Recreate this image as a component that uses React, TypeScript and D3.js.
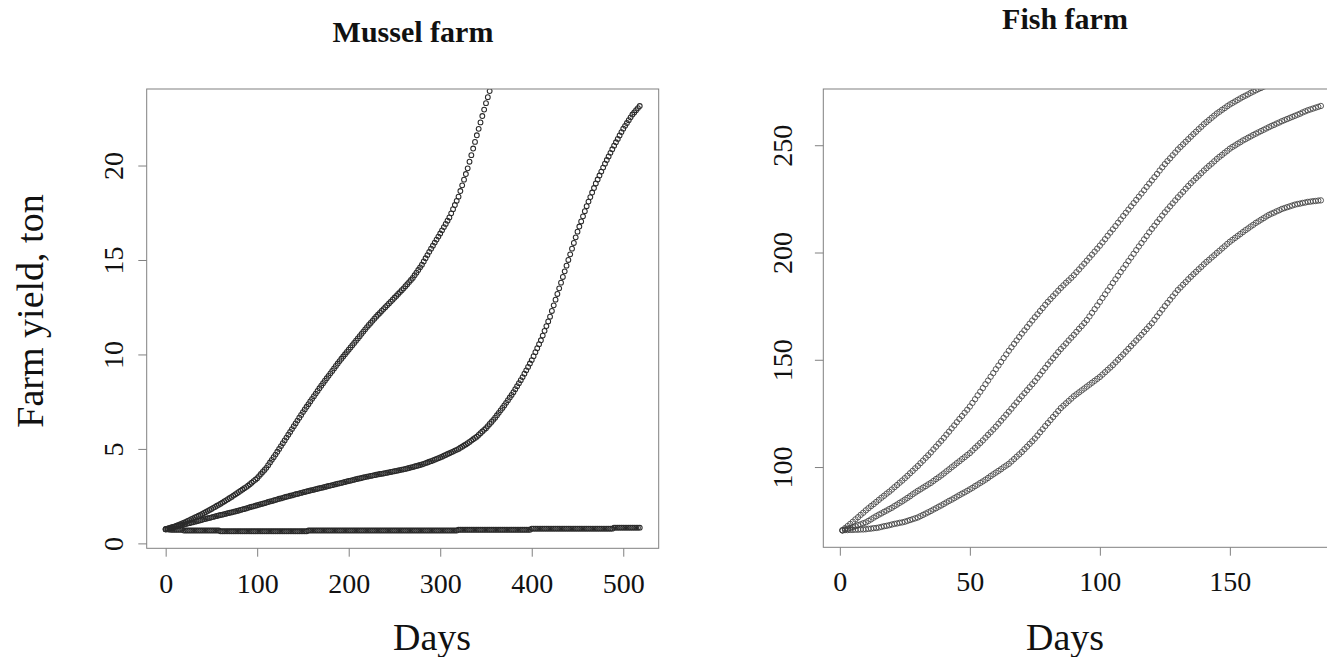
import React, { useEffect, useRef } from "react";
import * as d3 from "d3";

const W = 1327;
const H = 657;
const SERIF = "'Liberation Serif', 'Times New Roman', serif";

// Mussel farm (left panel): one reading every 2 days, days 0..518
const musselDays = d3.range(0, 519, 2);

// fast-growing run, leaves the plot top around day 356
const musselFast = [
  0.75, 0.78, 0.81, 0.84, 0.87, 0.9,
  0.94, 0.98, 1.02, 1.06, 1.1,
  1.14, 1.19, 1.23, 1.28, 1.32,
  1.37, 1.42, 1.46, 1.51, 1.56,
  1.61, 1.66, 1.72, 1.77, 1.82,
  1.88, 1.93, 1.99, 2.04, 2.1,
  2.16, 2.22, 2.28, 2.34, 2.4,
  2.46, 2.53, 2.59, 2.66, 2.72,
  2.79, 2.85, 2.92, 2.98, 3.05,
  3.13, 3.21, 3.29, 3.37, 3.45,
  3.56, 3.67, 3.78, 3.89, 4.0,
  4.14, 4.28, 4.42, 4.56, 4.7,
  4.85, 5.0, 5.15, 5.3, 5.45,
  5.6, 5.75, 5.9, 6.05, 6.2,
  6.35, 6.5, 6.65, 6.8, 6.95,
  7.09, 7.23, 7.37, 7.51, 7.65,
  7.79, 7.93, 8.07, 8.21, 8.35,
  8.48, 8.61, 8.74, 8.87, 9.0,
  9.13, 9.26, 9.39, 9.52, 9.65,
  9.77, 9.89, 10.01, 10.13, 10.25,
  10.37, 10.49, 10.61, 10.73, 10.85,
  10.97, 11.09, 11.21, 11.33, 11.45,
  11.56, 11.67, 11.78, 11.89, 12.0,
  12.1, 12.2, 12.3, 12.4, 12.5,
  12.6, 12.7, 12.8, 12.9, 13.0,
  13.1, 13.2, 13.3, 13.4, 13.5,
  13.61, 13.72, 13.83, 13.94, 14.05,
  14.19, 14.33, 14.47, 14.61, 14.75,
  14.92, 15.09, 15.26, 15.43, 15.6,
  15.76, 15.92, 16.08, 16.24, 16.4,
  16.57, 16.74, 16.91, 17.08, 17.25,
  17.47, 17.69, 17.91, 18.13, 18.35,
  18.65, 18.95, 19.25, 19.55, 19.85,
  20.2, 20.55, 20.9, 21.25, 21.6,
  21.94, 22.28, 22.62, 22.96, 23.3,
  23.62, 23.94, 24.26, 24.58, 24.9,
  25.2, 25.5,
];

const musselMid = [
  0.75, 0.78, 0.8, 0.83, 0.85, 0.88,
  0.9, 0.93, 0.95, 0.98, 1.0,
  1.02, 1.05, 1.07, 1.1, 1.12,
  1.15, 1.17, 1.2, 1.22, 1.25,
  1.28, 1.3, 1.33, 1.35, 1.38,
  1.4, 1.43, 1.45, 1.48, 1.5,
  1.52, 1.55, 1.57, 1.6, 1.62,
  1.64, 1.67, 1.69, 1.72, 1.74,
  1.77, 1.8, 1.82, 1.85, 1.88,
  1.91, 1.94, 1.96, 1.99, 2.02,
  2.05, 2.08, 2.1, 2.13, 2.16,
  2.19, 2.22, 2.24, 2.27, 2.3,
  2.33, 2.36, 2.38, 2.41, 2.44,
  2.47, 2.49, 2.52, 2.54, 2.57,
  2.6, 2.62, 2.65, 2.67, 2.7,
  2.72, 2.75, 2.77, 2.8, 2.82,
  2.84, 2.87, 2.89, 2.92, 2.94,
  2.96, 2.99, 3.01, 3.04, 3.06,
  3.08, 3.11, 3.13, 3.16, 3.18,
  3.2, 3.23, 3.25, 3.28, 3.3,
  3.32, 3.35, 3.37, 3.4, 3.42,
  3.44, 3.46, 3.49, 3.51, 3.53,
  3.55, 3.57, 3.59, 3.61, 3.63,
  3.65, 3.67, 3.68, 3.7, 3.72,
  3.74, 3.76, 3.78, 3.8, 3.82,
  3.84, 3.86, 3.88, 3.9, 3.92,
  3.94, 3.97, 3.99, 4.02, 4.04,
  4.07, 4.1, 4.12, 4.15, 4.18,
  4.21, 4.25, 4.28, 4.32, 4.35,
  4.39, 4.43, 4.47, 4.51, 4.55,
  4.59, 4.64, 4.68, 4.73, 4.77,
  4.82, 4.86, 4.91, 4.95, 5.0,
  5.06, 5.12, 5.18, 5.24, 5.3,
  5.37, 5.44, 5.51, 5.58, 5.65,
  5.74, 5.83, 5.92, 6.01, 6.1,
  6.21, 6.32, 6.43, 6.54, 6.65,
  6.78, 6.91, 7.04, 7.17, 7.3,
  7.44, 7.58, 7.72, 7.86, 8.0,
  8.16, 8.32, 8.48, 8.64, 8.8,
  8.98, 9.16, 9.34, 9.52, 9.7,
  9.91, 10.12, 10.33, 10.54, 10.75,
  11.0, 11.25, 11.5, 11.75, 12.0,
  12.3, 12.6, 12.9, 13.2, 13.5,
  13.8, 14.1, 14.4, 14.7, 15.0,
  15.3, 15.6, 15.9, 16.2, 16.5,
  16.77, 17.04, 17.31, 17.58, 17.85,
  18.09, 18.33, 18.57, 18.81, 19.05,
  19.26, 19.47, 19.68, 19.89, 20.1,
  20.29, 20.48, 20.67, 20.86, 21.05,
  21.23, 21.41, 21.59, 21.77, 21.95,
  22.1, 22.25, 22.4, 22.55, 22.7,
  22.81, 22.93, 23.04, 23.15,
];

const musselFlat = [
  // days 0-18
  0.75, 0.74, 0.73, 0.72, 0.72, 0.72, 0.72, 0.72, 0.72, 0.72,
  // days 20-58
  0.68, 0.68, 0.68, 0.68, 0.68, 0.68, 0.68, 0.68, 0.68, 0.68,
  0.68, 0.68, 0.68, 0.68, 0.68, 0.68, 0.68, 0.68, 0.68, 0.68,
  // days 60-154
  0.64, 0.64, 0.64, 0.64, 0.64, 0.64, 0.64, 0.64, 0.64, 0.64,
  0.64, 0.64, 0.64, 0.64, 0.64, 0.64, 0.64, 0.64, 0.64, 0.64,
  0.64, 0.64, 0.64, 0.64, 0.64, 0.64, 0.64, 0.64, 0.64, 0.64,
  0.64, 0.64, 0.64, 0.64, 0.64, 0.64, 0.64, 0.64, 0.64, 0.64,
  0.64, 0.64, 0.64, 0.64, 0.64, 0.64, 0.64, 0.64,
  // days 156-318
  0.68, 0.68, 0.68, 0.68, 0.68, 0.68, 0.68, 0.68, 0.68, 0.68,
  0.68, 0.68, 0.68, 0.68, 0.68, 0.68, 0.68, 0.68, 0.68, 0.68,
  0.68, 0.68, 0.68, 0.68, 0.68, 0.68, 0.68, 0.68, 0.68, 0.68,
  0.68, 0.68, 0.68, 0.68, 0.68, 0.68, 0.68, 0.68, 0.68, 0.68,
  0.68, 0.68, 0.68, 0.68, 0.68, 0.68, 0.68, 0.68, 0.68, 0.68,
  0.68, 0.68, 0.68, 0.68, 0.68, 0.68, 0.68, 0.68, 0.68, 0.68,
  0.68, 0.68, 0.68, 0.68, 0.68, 0.68, 0.68, 0.68, 0.68, 0.68,
  0.68, 0.68, 0.68, 0.68, 0.68, 0.68, 0.68, 0.68, 0.68, 0.68,
  0.68, 0.68,
  // days 320-398
  0.72, 0.72, 0.72, 0.72, 0.72, 0.72, 0.72, 0.72, 0.72, 0.72,
  0.72, 0.72, 0.72, 0.72, 0.72, 0.72, 0.72, 0.72, 0.72, 0.72,
  0.72, 0.72, 0.72, 0.72, 0.72, 0.72, 0.72, 0.72, 0.72, 0.72,
  0.72, 0.72, 0.72, 0.72, 0.72, 0.72, 0.72, 0.72, 0.72, 0.72,
  // days 400-488
  0.78, 0.78, 0.78, 0.78, 0.78, 0.78, 0.78, 0.78, 0.78, 0.78,
  0.78, 0.78, 0.78, 0.78, 0.78, 0.78, 0.78, 0.78, 0.78, 0.78,
  0.78, 0.78, 0.78, 0.78, 0.78, 0.78, 0.78, 0.78, 0.78, 0.78,
  0.78, 0.78, 0.78, 0.78, 0.78, 0.78, 0.78, 0.78, 0.78, 0.78,
  0.78, 0.78, 0.78, 0.78, 0.78,
  // days 490-518
  0.83, 0.83, 0.83, 0.83, 0.83, 0.83, 0.83, 0.83, 0.83, 0.83,
  0.83, 0.83, 0.83, 0.83, 0.83,
];

const musselXTicks = [0, 100, 200, 300, 400, 500];
const musselYTicks = [0, 5, 10, 15, 20];

// Fish farm (right panel): daily, days 1..185
const fishDays = d3.range(1, 186);

const fishHigh = [
  70.5, 71.5, 72.5, 73.5, 74.5,
  75.6, 76.6, 77.7, 78.7, 79.8,
  80.8, 81.8, 82.7, 83.7, 84.7,
  85.7, 86.6, 87.6, 88.5, 89.5,
  90.6, 91.6, 92.7, 93.7, 94.8,
  95.9, 97.1, 98.2, 99.4, 100.5,
  101.8, 103.0, 104.3, 105.5, 106.8,
  108.2, 109.5, 110.9, 112.2, 113.6,
  115.1, 116.5, 118.0, 119.4, 120.9,
  122.4, 123.8, 125.3, 126.7, 128.2,
  129.9, 131.6, 133.4, 135.1, 136.8,
  138.6, 140.3, 142.1, 143.8, 145.6,
  147.3, 149.0, 150.8, 152.5, 154.2,
  155.8, 157.4, 159.0, 160.6, 162.2,
  163.7, 165.2, 166.8, 168.3, 169.8,
  171.2, 172.7, 174.1, 175.6, 177.0,
  178.3, 179.6, 180.9, 182.2, 183.5,
  184.7, 185.9, 187.0, 188.2, 189.4,
  190.8, 192.1, 193.5, 194.8, 196.2,
  197.6, 199.0, 200.4, 201.8, 203.2,
  204.7, 206.2, 207.8, 209.3, 210.8,
  212.3, 213.9, 215.4, 217.0, 218.5,
  220.0, 221.5, 223.0, 224.5, 226.0,
  227.5, 229.0, 230.6, 232.1, 233.6,
  235.1, 236.6, 238.2, 239.7, 241.2,
  242.6, 243.9, 245.3, 246.6, 248.0,
  249.2, 250.4, 251.6, 252.8, 254.0,
  255.2, 256.3, 257.5, 258.6, 259.8,
  260.8, 261.8, 262.8, 263.8, 264.8,
  265.6, 266.5, 267.3, 268.2, 269.0,
  269.7, 270.4, 271.1, 271.8, 272.5,
  273.1, 273.7, 274.4, 275.0, 275.6,
  276.2, 276.7, 277.3, 277.8, 278.4,
  278.9, 279.4, 280.0, 280.5, 281.0,
  281.5, 281.9, 282.4, 282.8, 283.3,
  283.7, 284.1, 284.6, 285.0, 285.4,
  285.8, 286.2, 286.5, 286.9, 287.3,
];

const fishMid = [
  70.5, 70.9, 71.2, 71.6, 72.0,
  72.4, 72.9, 73.3, 73.8, 74.2,
  74.9, 75.6, 76.4, 77.1, 77.8,
  78.4, 79.1, 79.7, 80.4, 81.0,
  81.8, 82.5, 83.3, 84.0, 84.8,
  85.6, 86.4, 87.3, 88.1, 88.9,
  89.6, 90.4, 91.1, 91.9, 92.6,
  93.5, 94.4, 95.2, 96.1, 97.0,
  98.0, 98.9, 99.9, 100.8, 101.8,
  102.7, 103.7, 104.6, 105.6, 106.5,
  107.7, 108.9, 110.0, 111.2, 112.4,
  113.7, 115.0, 116.2, 117.5, 118.8,
  120.2, 121.6, 123.0, 124.4, 125.8,
  127.2, 128.7, 130.1, 131.6, 133.0,
  134.4, 135.8, 137.2, 138.6, 140.0,
  141.6, 143.1, 144.7, 146.2, 147.8,
  149.2, 150.7, 152.1, 153.6, 155.0,
  156.3, 157.6, 159.0, 160.3, 161.6,
  163.0, 164.4, 165.7, 167.1, 168.5,
  170.2, 171.9, 173.6, 175.3, 177.0,
  178.8, 180.5, 182.3, 184.0, 185.8,
  187.5, 189.2, 190.9, 192.6, 194.3,
  196.0, 197.7, 199.4, 201.1, 202.8,
  204.4, 206.1, 207.7, 209.4, 211.0,
  212.5, 214.1, 215.6, 217.2, 218.7,
  220.1, 221.5, 222.9, 224.3, 225.7,
  227.0, 228.3, 229.7, 231.0, 232.3,
  233.5, 234.7, 235.8, 237.0, 238.2,
  239.3, 240.4, 241.4, 242.5, 243.6,
  244.6, 245.5, 246.5, 247.4, 248.4,
  249.2, 249.9, 250.7, 251.4, 252.2,
  252.8, 253.5, 254.1, 254.8, 255.4,
  256.0, 256.6, 257.2, 257.8, 258.4,
  259.0, 259.5, 260.1, 260.6, 261.2,
  261.7, 262.2, 262.7, 263.2, 263.7,
  264.2, 264.7, 265.3, 265.8, 266.3,
  266.7, 267.1, 267.5, 267.9, 268.3,
];

const fishLow = [
  70.5, 70.6, 70.6, 70.7, 70.7,
  70.8, 70.8, 70.9, 70.9, 71.0,
  71.2, 71.3, 71.5, 71.6, 71.8,
  72.1, 72.4, 72.6, 72.9, 73.2,
  73.5, 73.7, 74.0, 74.2, 74.5,
  74.9, 75.3, 75.7, 76.1, 76.5,
  77.1, 77.7, 78.3, 78.9, 79.5,
  80.2, 80.8, 81.5, 82.1, 82.8,
  83.5, 84.2, 84.8, 85.5, 86.2,
  86.9, 87.6, 88.2, 88.9, 89.6,
  90.3, 91.1, 91.8, 92.6, 93.3,
  94.1, 94.9, 95.8, 96.6, 97.4,
  98.2, 99.0, 99.9, 100.7, 101.5,
  102.6, 103.7, 104.8, 105.9, 107.0,
  108.3, 109.5, 110.8, 112.0, 113.3,
  114.7, 116.2, 117.6, 119.1, 120.5,
  121.9, 123.3, 124.7, 126.1, 127.5,
  128.6, 129.7, 130.8, 131.9, 133.0,
  133.9, 134.8, 135.7, 136.6, 137.5,
  138.4, 139.3, 140.2, 141.1, 142.0,
  143.1, 144.2, 145.3, 146.4, 147.5,
  148.8, 150.0, 151.3, 152.5, 153.8,
  155.1, 156.4, 157.7, 159.0, 160.3,
  161.6, 163.0, 164.3, 165.7, 167.0,
  168.6, 170.2, 171.8, 173.4, 175.0,
  176.5, 178.0, 179.5, 181.0, 182.5,
  183.7, 185.0, 186.2, 187.5, 188.7,
  189.9, 191.0, 192.2, 193.3, 194.5,
  195.6, 196.6, 197.7, 198.7, 199.8,
  200.8, 201.9, 202.9, 204.0, 205.0,
  205.9, 206.8, 207.7, 208.6, 209.5,
  210.4, 211.2, 212.1, 212.9, 213.8,
  214.5, 215.3, 216.0, 216.8, 217.5,
  218.1, 218.6, 219.2, 219.7, 220.3,
  220.7, 221.1, 221.5, 221.9, 222.3,
  222.6, 222.8, 223.1, 223.3, 223.6,
  223.7, 223.9, 224.0, 224.2, 224.3,
];

const fishXTicks = [0, 50, 100, 150];
const fishYTicks = [100, 150, 200, 250];

// R style axis range: data range widened by 4% at both ends
function padded(values: number[]): [number, number] {
  const lo = d3.min(values) as number;
  const hi = d3.max(values) as number;
  const d = (hi - lo) * 0.04;
  return [lo - d, hi + d];
}

export default function App() {
  const ref = useRef<SVGSVGElement>(null);

  useEffect(() => {
    const svg = d3.select(ref.current);
    svg.selectAll("*").remove();

    const panels = [
      {
        id: "mussel",
        title: "Mussel farm",
        titleX: 413,
        titleY: 42,
        labelX: 432,
        days: musselDays,
        series: [musselFast, musselMid, musselFlat],
        xTicks: musselXTicks,
        yTicks: musselYTicks,
        xDomain: padded(musselDays),
        yDomain: padded(musselMid.concat(musselFlat)),
        left: 146.7,
        right: 658.7,
        top: 89,
        bottom: 548.3,
        r: 2.4,
        stroke: "#2a2a2a",
        strokeWidth: 1.05,
        yLabelGap: 23.4,
        xLabelGap: 45,
      },
      {
        id: "fish",
        title: "Fish farm",
        titleX: 1065,
        titleY: 29,
        labelX: 1065,
        days: fishDays,
        series: [fishHigh, fishMid, fishLow],
        xTicks: fishXTicks,
        yTicks: fishYTicks,
        xDomain: padded(fishDays),
        yDomain: padded(fishMid.concat(fishLow)),
        left: 823.3,
        right: 1340,
        top: 89,
        bottom: 547.3,
        r: 2.7,
        stroke: "#404040",
        strokeWidth: 0.85,
        yLabelGap: 31.6,
        xLabelGap: 44,
      },
    ];

    const defs = svg.append("defs");

    panels.forEach((p) => {
      const x = d3.scaleLinear().domain(p.xDomain).range([p.left, p.right]);
      const y = d3.scaleLinear().domain(p.yDomain).range([p.bottom, p.top]);
      const g = svg.append("g").attr("class", p.id);

      defs
        .append("clipPath")
        .attr("id", "clip-" + p.id)
        .append("rect")
        .attr("x", p.left)
        .attr("y", p.top)
        .attr("width", p.right - p.left)
        .attr("height", p.bottom - p.top);

      // points, one open circle per reading
      const pts = g.append("g").attr("clip-path", "url(#clip-" + p.id + ")");
      p.series.forEach((values) => {
        pts
          .append("g")
          .selectAll("circle")
          .data(values)
          .join("circle")
          .attr("cx", (d, i) => x(p.days[i]))
          .attr("cy", (d) => y(d))
          .attr("r", p.r)
          .attr("fill", "none")
          .attr("stroke", p.stroke)
          .attr("stroke-width", p.strokeWidth);
      });

      // frame
      g.append("rect")
        .attr("x", p.left)
        .attr("y", p.top)
        .attr("width", p.right - p.left)
        .attr("height", p.bottom - p.top)
        .attr("fill", "none")
        .attr("stroke", "#808080")
        .attr("stroke-width", 1);

      // x axis
      const xAxis = g
        .append("g")
        .attr("transform", "translate(0," + p.bottom + ")")
        .call(d3.axisBottom(x).tickValues(p.xTicks).tickSize(8.4).tickFormat(d3.format("d")));
      xAxis.select(".domain").remove();
      xAxis.attr("font-family", SERIF).attr("font-size", 28);
      xAxis.selectAll(".tick line").attr("stroke", "#808080");
      xAxis
        .selectAll(".tick text")
        .attr("y", p.xLabelGap)
        .attr("dy", null)
        .attr("fill", "#111");

      // y axis, labels turned like R's default
      const yAxis = g
        .append("g")
        .attr("transform", "translate(" + p.left + ",0)")
        .call(d3.axisLeft(y).tickValues(p.yTicks).tickSize(8.4).tickFormat(d3.format("d")));
      yAxis.select(".domain").remove();
      yAxis.attr("font-family", SERIF).attr("font-size", 28);
      yAxis.selectAll(".tick line").attr("stroke", "#808080");
      yAxis
        .selectAll(".tick text")
        .attr("x", 0)
        .attr("dy", null)
        .attr("text-anchor", "middle")
        .attr("fill", "#111")
        .attr("transform", "translate(" + -p.yLabelGap + ",0) rotate(-90)");

      // title and x label
      g.append("text")
        .attr("x", p.titleX)
        .attr("y", p.titleY)
        .attr("text-anchor", "middle")
        .attr("font-family", SERIF)
        .attr("font-weight", "bold")
        .attr("font-size", 30)
        .attr("fill", "#111")
        .text(p.title);

      g.append("text")
        .attr("x", p.labelX)
        .attr("y", 650)
        .attr("text-anchor", "middle")
        .attr("font-family", SERIF)
        .attr("font-size", 38)
        .attr("fill", "#111")
        .text("Days");
    });

    svg
      .append("text")
      .attr("transform", "translate(43,311) rotate(-90)")
      .attr("text-anchor", "middle")
      .attr("font-family", SERIF)
      .attr("font-size", 38)
      .attr("fill", "#111")
      .text("Farm yield, ton");
  }, []);

  return (
    <svg
      ref={ref}
      width={W}
      height={H}
      style={{ position: "absolute", left: 0, top: 0, background: "#fff" }}
    />
  );
}
